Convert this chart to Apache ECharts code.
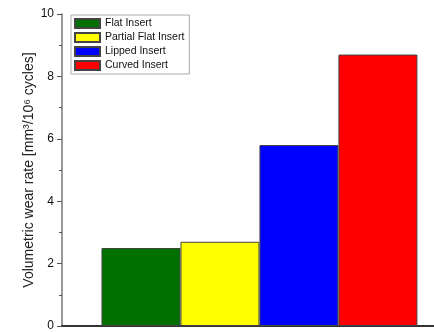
<!DOCTYPE html>
<html><head><meta charset="utf-8">
<script src="https://cdn.jsdelivr.net/npm/echarts@6/dist/echarts.min.js"></script>
<style>html,body{margin:0;padding:0;background:#fff}#c{width:434px;height:332px}</style>
</head><body><div id="c"></div>
<script>
var categories = ["Flat Insert", "Partial Flat Insert", "Lipped Insert", "Curved Insert"];
var wearValues = [2.5, 2.7, 5.8, 8.7];
var barColors = ["#007000", "#ffff00", "#0000ff", "#ff0000"];
var yTicks = [0, 2, 4, 6, 8, 10];

var chart = echarts.init(document.getElementById('c'), null, {renderer: 'canvas'});
var series = categories.map(function (name, i) {
  return {
    name: name,
    type: 'bar',
    stack: 'all',
    barWidth: 79,
    data: [[i + 1, wearValues[i]]],
    itemStyle: {color: barColors[i], borderColor: '#444', borderWidth: 1},
    emphasis: {disabled: true}
  };
});
chart.setOption({
  animation: false,
  grid: {left: 62, right: 0, top: 14, bottom: 4, containLabel: false},
  legend: {
    orient: 'vertical', left: 71, top: 15,
    icon: 'rect',
    itemWidth: 25, itemHeight: 9, itemGap: 3,
    padding: [3, 5, 3, 3],
    borderColor: '#aaa', borderWidth: 1,
    textStyle: {fontFamily: 'Liberation Sans', fontSize: 10.5, color: '#111', lineHeight: 10.5},
    data: categories
  },
  xAxis: {
    type: 'value', min: 0, max: 4.71,
    axisLine: {show: true, onZero: false, lineStyle: {color: '#333', width: 2}},
    axisTick: {show: false}, axisLabel: {show: false}, splitLine: {show: false}
  },
  yAxis: {
    type: 'value', min: yTicks[0], max: yTicks[yTicks.length - 1], interval: 2,
    name: 'Volumetric wear rate [mm³/10⁶ cycles]',
    nameLocation: 'middle', nameGap: 26, nameMoveOverlap: false,
    nameTextStyle: {fontFamily: 'Liberation Sans', fontSize: 14, color: '#222'},
    axisLine: {show: true, lineStyle: {color: '#777', width: 1.5}},
    axisTick: {show: true, inside: false, length: 5, lineStyle: {color: '#555'}},
    minorTick: {show: true, splitNumber: 2, length: 3, lineStyle: {color: '#555'}},
    axisLabel: {fontFamily: 'Liberation Sans', fontSize: 12, color: '#111', margin: 8},
    splitLine: {show: false}
  },
  series: series
});
</script></body></html>
